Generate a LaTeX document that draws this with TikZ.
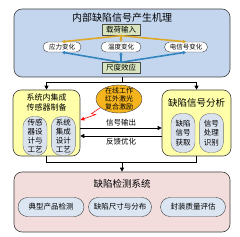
\documentclass[tikz,border=0pt]{standalone}
\usepackage{fontspec}
\setmainfont{Noto Sans CJK SC}
\usepackage{xcolor}
\usetikzlibrary{arrows.meta,positioning,shapes.misc,shapes.geometric}
\definecolor{mechblue}{RGB}{196,214,238}
\definecolor{taggreen}{RGB}{215,228,189}
\definecolor{paleyellow}{RGB}{255,255,170}
\definecolor{cellgray}{RGB}{218,226,238}
\definecolor{laserorange}{RGB}{245,180,30}
\definecolor{detpink}{RGB}{242,221,220}
\definecolor{goalblue}{RGB}{220,230,242}
\definecolor{goldline}{RGB}{222,168,40}
\definecolor{blueline}{RGB}{52,132,192}

\begin{document}
\begin{tikzpicture}[x=1pt,y=-1pt,
  node distance=3pt and 4pt,
  panel/.style={draw=black!75, line width=0.6pt, rounded corners=8pt, inner sep=0pt},
  head/.style={font=\fontsize{9.5}{10.5}\selectfont, inner sep=1pt, align=center},
  tag/.style={draw=black!70, fill=taggreen, minimum width=38pt, minimum height=11pt, inner sep=0pt, font=\fontsize{7.5}{8}\selectfont},
  chip/.style={draw=black!75, fill=white, rounded rectangle, minimum height=10pt, inner sep=1pt, font=\fontsize{6.5}{7}\selectfont},
  cell/.style={draw=black!55, fill=cellgray, rounded corners=10pt, align=center, text width=16pt, minimum height=39pt, inner xsep=4pt, inner ysep=2pt, font=\fontsize{7.5}{9.2}\selectfont},
  goal/.style={draw=black!75, fill=goalblue, rounded rectangle, minimum height=19pt, inner sep=1pt, font=\fontsize{7.5}{8}\selectfont},
  arrow/.style={-{Triangle[length=4pt,width=4pt]}, line width=0.8pt},
  gold/.style={-{Triangle[length=3pt,width=3.5pt]}, line width=1.6pt, goldline},
  azure/.style={-{Triangle[length=3pt,width=3.5pt]}, line width=1.6pt, blueline},
  lab/.style={font=\fontsize{7.5}{8}\selectfont, inner sep=1.5pt}
]
\useasboundingbox (0,0) rectangle (240,237);

\node[panel, fill=mechblue, minimum width=216pt, minimum height=68pt] (mech) at (122,43) {};
\node[head, font=\fontsize{10}{11}\selectfont] (mechtitle) at (122,18) {内部缺陷信号产生机理};
\node[tag] (load) at (121,30) {载荷输入};
\node[chip, minimum width=40pt] (stress) at (62,47) {应力变化};
\node[chip, minimum width=42pt] (temp) at (121,47) {温度变化};
\node[chip, minimum width=45pt] (elec) at (186,47) {电信号变化};
\node[tag] (scale) at (121,68) {尺度效应};

\draw[gold] (load.south) -- (stress.north);
\draw[gold] (load.south) -- (temp.north);
\draw[gold] (load.south) -- (elec.north);
\draw[azure] (scale.north) -- (stress.south);
\draw[azure] (scale.north) -- (temp.south);
\draw[azure] (scale.north) -- (elec.south);

\node[panel, fill=paleyellow, minimum width=67pt, minimum height=66pt] (sens) at (46.5,123) {};
\node[head, font=\fontsize{8}{10}\selectfont, below=3pt of sens.north] (senstitle) {系统内集成\\传感器制备};
\node[cell] (design) at (35,136) {传感\\器设\\计与\\工艺};
\node[cell, right=4pt of design] (integ) {系统\\集成\\设计\\工艺};

\node[panel, fill=paleyellow, minimum width=69pt, minimum height=66pt] (ana) at (196.5,123) {};
\node[head, below=8pt of ana.north] (anatitle) {缺陷信号分析};
\node[cell] (acquire) at (183,133) {缺陷\\信号\\获取};
\node[cell, right=4pt of acquire] (process) {信号\\处理\\识别};

\node[ellipse, draw=black!75, fill=laserorange, minimum width=46pt, minimum height=28pt, inner sep=0pt,
  label={[align=center, font=\fontsize{7}{8.3}\selectfont]center:在线工作\\红外激光\\复合激励}] (laser) at (119,99) {};

\node[panel, fill=detpink, minimum width=216pt, minimum height=60pt] (det) at (122,202) {};
\node[head] (dettitle) at (122,184) {缺陷检测系统};
\node[goal, minimum width=68pt] (typical) at (51,207) {典型产品检测};
\node[goal, minimum width=65pt] (size) at (120,207) {缺陷尺寸与分布};
\node[goal, minimum width=67pt] (pack) at (193,207) {封装质量评估};

\draw[line width=0.8pt] (mech.south) -- ++(0,5) coordinate (split);
\draw[arrow] (split) -| (sens.north);
\draw[arrow] (split) -| (ana.north);

\draw[red, line width=0.6pt, -{Triangle[length=4pt,width=3.5pt]}] (laser.205) -- ++(-9,6) -- ++(4,1) -- (sens.5);

\draw[arrow] ([yshift=-5pt]sens.east) -- node[lab, above] {信号输出} ([yshift=-5pt]ana.west);
\draw[arrow] ([yshift=-13pt]ana.west) -- node[lab, below] {反馈优化} ([yshift=-13pt]sens.east);

\draw[line width=0.8pt] (sens.south) -- ++(0,6) coordinate (merge) -| (ana.south);
\draw[arrow] (det.north |- merge) -- (det.north);
\end{tikzpicture}
\end{document}
